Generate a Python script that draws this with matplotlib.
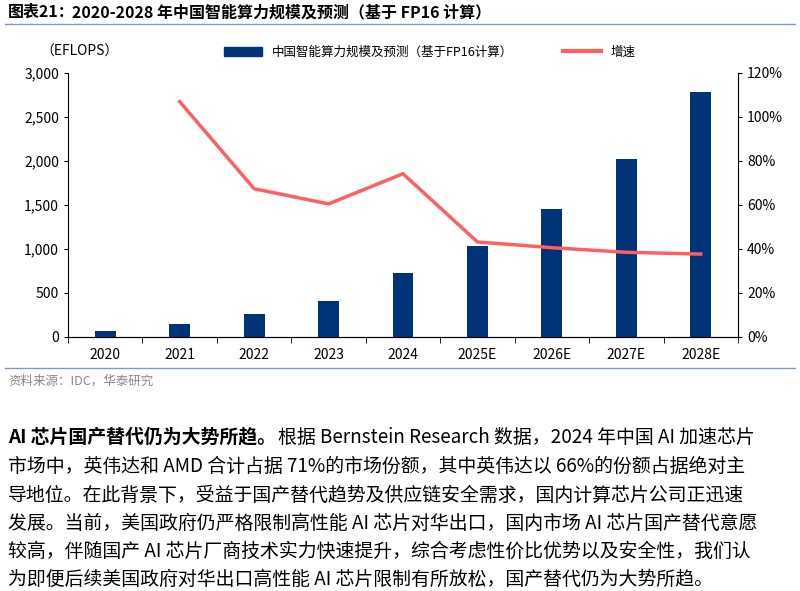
import matplotlib
matplotlib.use("Agg")
import matplotlib.pyplot as plt
from matplotlib.lines import Line2D
from matplotlib.patches import Patch

plt.rcParams['font.family'] = ['Noto Sans CJK SC', 'DejaVu Sans']

years = ["2020", "2021", "2022", "2023", "2024", "2025E", "2026E", "2027E", "2028E"]
compute = [72, 152, 261, 413, 723, 1038, 1458, 2023, 2788]
growth = [None, 107.0, 67.4, 60.5, 74.2, 43.2, 40.6, 38.5, 37.7]

W, H = 800, 591
fig = plt.figure(figsize=(8, 5.91), dpi=100)

def fx(x): return x / W
def fy(y): return 1 - y / H

ax = fig.add_axes([fx(68), fy(337), fx(738 - 68), fy(73) - fy(337)])
x = list(range(len(years)))
ax.bar(x, compute, width=0.28, color='#003478', zorder=2)
ax.set_xlim(-0.5, len(years) - 0.5)
ax.set_ylim(0, 3000)
ax.set_yticks(range(0, 3001, 500))
ax.set_yticklabels([f"{v:,}" for v in range(0, 3001, 500)])
ax.set_xticks(x)
ax.set_xticklabels(years)
for s in ['top', 'right']:
    ax.spines[s].set_visible(False)
ax.tick_params(labelsize=10, length=3)
ax.set_xticks([i + 0.5 for i in range(-1, len(years))], minor=True)
ax.tick_params(axis='x', which='major', length=0, pad=8)
ax.tick_params(axis='x', which='minor', length=4, direction='out')

ax2 = ax.twinx()
gx = [i for i, g in enumerate(growth) if g is not None]
gy = [g for g in growth if g is not None]
ax2.plot(gx, gy, color='#FF5F5F', lw=2.5, zorder=3)
ax2.set_ylim(0, 120)
ax2.set_yticks(range(0, 121, 20))
ax2.set_yticklabels([f"{v}%" for v in range(0, 121, 20)])
for s in ['top', 'left']:
    ax2.spines[s].set_visible(False)
ax2.tick_params(labelsize=10, length=3)

fig.text(fx(40), fy(52), "（EFLOPS）", fontsize=10, va='center')
handles = [Patch(color='#003478'), Line2D([], [], color='#FF5F5F', lw=3)]
fig.legend(handles, ["中国智能算力规模及预测（基于FP16计算）", "增速"], loc='center',
           bbox_to_anchor=(fx(430), fy(52)), ncol=2, frameon=False, fontsize=9,
           handlelength=3, columnspacing=4)

fig.text(fx(8), fy(12), "图表21：", fontsize=11.5, weight='bold', va='center')
fig.text(fx(72), fy(12), "2020-2028 年中国智能算力规模及预测（基于 FP16 计算）", fontsize=11.5,
         weight='bold', va='center')
fig.add_artist(Line2D([fx(5), fx(795)], [fy(24), fy(24)], color='#7F9CC0', lw=1))
fig.add_artist(Line2D([fx(5), fx(795)], [fy(368), fy(368)], color='#7F9CC0', lw=1))
fig.text(fx(8), fy(381), "资料来源：IDC，华泰研究", fontsize=9, color='#888888', va='center')

lines = [
    "根据 Bernstein Research 数据，2024 年中国 AI 加速芯片",
    "市场中，英伟达和 AMD 合计占据 71%的市场份额，其中英伟达以 66%的份额占据绝对主",
    "导地位。在此背景下，受益于国产替代趋势及供应链安全需求，国内计算芯片公司正迅速",
    "发展。当前，美国政府仍严格限制高性能 AI 芯片对华出口，国内市场 AI 芯片国产替代意愿",
    "较高，伴随国产 AI 芯片厂商技术实力快速提升，综合考虑性价比优势以及安全性，我们认",
    "为即便后续美国政府对华出口高性能 AI 芯片限制有所放松，国产替代仍为大势所趋。",
]
ys = [437, 466, 495, 523, 551, 579]
fs = 13.6
fig.canvas.draw()
r = fig.canvas.get_renderer()
bt = fig.text(fx(8), fy(ys[0]), "AI 芯片国产替代仍为大势所趋。", fontsize=fs, weight='bold', va='center')
bb = bt.get_window_extent(renderer=r)
fig.text(bb.x1 / fig.dpi / 8 + 0.002, fy(ys[0]), lines[0], fontsize=fs, va='center')
for t, y in zip(lines[1:], ys[1:]):
    fig.text(fx(8), fy(y), t, fontsize=fs, va='center')

fig.savefig("out.png", dpi=100)
